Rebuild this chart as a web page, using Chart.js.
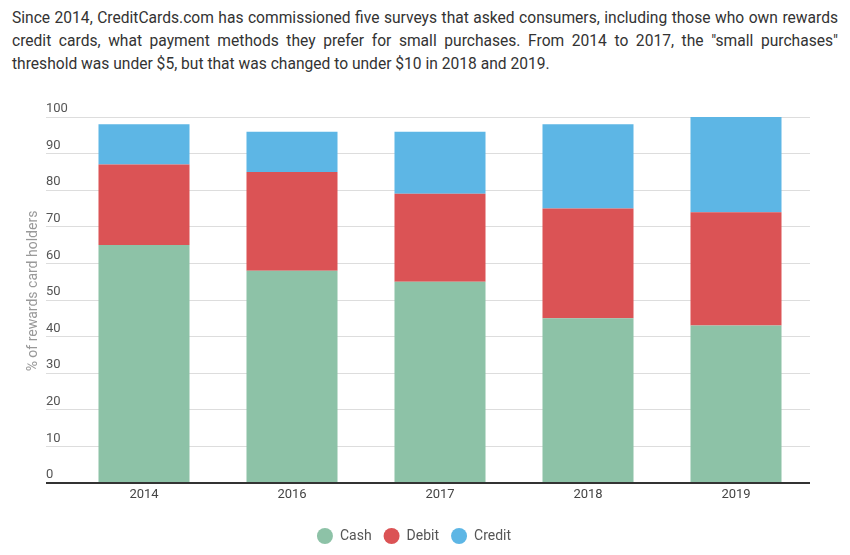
<!DOCTYPE html>
<html>
<head>
<meta charset="utf-8">
<script src="https://cdn.jsdelivr.net/npm/chart.js@4"></script>
<style>
  html, body { margin: 0; padding: 0; background: #fff; }
  body { width: 850px; height: 555px; position: relative; overflow: hidden; font-family: Roboto, sans-serif; }
  #intro {
    position: absolute; left: 12px; top: 7px; width: 826px; margin: 0;
    font-size: 15.6px; line-height: 23px; color: #333; text-align: justify;
  }
  #wrap { position: absolute; left: 0; top: 90px; width: 850px; height: 465px; }
</style>
</head>
<body>
<p id="intro">Since 2014, CreditCards.com has commissioned five surveys that asked consumers, including those who own rewards credit cards, what payment methods they prefer for small purchases. From 2014 to 2017, the "small purchases" threshold was under $5, but that was changed to under $10 in 2018 and 2019.</p>
<div id="wrap"><canvas id="chart"></canvas></div>
<script>
const years = ['2014', '2016', '2017', '2018', '2019']
const cash = [65, 58, 55, 45, 43]
const debit = [22, 27, 24, 30, 31]
const credit = [11, 11, 17, 23, 26]
const yTitle = '% of rewards card holders'

// y title sits left of the tick labels, so draw it by hand
const yTitlePlugin = {
  id: 'yTitle',
  afterLayout(chart) {
    // legend in the original is centred a bit left of the plot
    chart.legend.left -= 14
    chart.legend.right -= 14
  },
  afterDraw(chart) {
    const ctx = chart.ctx
    ctx.save()
    ctx.translate(33, 201)
    ctx.rotate(-Math.PI / 2)
    ctx.font = '14px Roboto'
    ctx.fillStyle = '#999'
    ctx.textAlign = 'center'
    ctx.textBaseline = 'middle'
    ctx.fillText(yTitle, 0, 0)
    ctx.restore()
  },
}

const bar = (label, data, color) => ({
  label, data, backgroundColor: color, borderWidth: 0,
  barPercentage: 0.615, categoryPercentage: 1,
})

new Chart(document.getElementById('chart'), {
  type: 'bar',
  data: {
    labels: years,
    datasets: [
      bar('Cash', cash, '#8DC2A7'),
      bar('Debit', debit, '#DB5355'),
      bar('Credit', credit, '#5DB6E5'),
    ],
  },
  options: {
    responsive: true,
    maintainAspectRatio: false,
    animation: false,
    layout: { padding: { left: 46, right: 40, top: 27, bottom: 2 } },
    plugins: {
      tooltip: { enabled: false },
      legend: {
        position: 'bottom',
        labels: {
          usePointStyle: true, pointStyle: 'circle', pointStyleWidth: 16, boxHeight: 11.3,
          padding: 12, color: '#555', font: { family: 'Roboto', size: 14 },
        },
      },
    },
    scales: {
      x: {
        stacked: true,
        afterFit: s => { s.height = 34 },
        grid: { display: false, drawTicks: false },
        border: { display: false },
        ticks: { color: '#444', padding: 4, font: { family: 'Roboto', size: 13 } },
      },
      y: {
        stacked: true,
        min: 0, max: 100,
        afterFit: s => { s.width = 24 },
        border: { display: false },
        grid: {
          drawTicks: true, tickLength: 24,
          color: c => c.tick.value === 0 ? '#333' : '#ddd',
          lineWidth: c => c.tick.value === 0 ? 2 : 1,
        },
        ticks: {
          stepSize: 10, crossAlign: 'far', labelOffset: -8,
          color: '#555', font: { family: 'Roboto', size: 13 },
        },
      },
    },
  },
  plugins: [yTitlePlugin],
})
</script>
</body>
</html>
